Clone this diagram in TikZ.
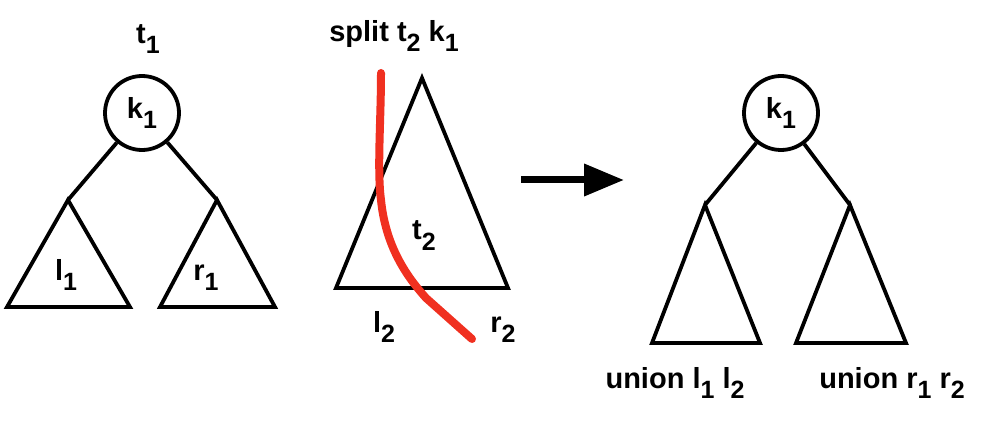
\documentclass[tikz,border=0pt]{standalone}
\usepackage{fontspec}
\setmainfont{Liberation Sans}
\usetikzlibrary{arrows.meta}
\definecolor{cutred}{RGB}{240,48,32}
\newcommand\sbs[1]{\raisebox{-10pt}{\fontsize{25}{25}\selectfont #1}}
\tikzset{
  lbl/.style={inner sep=0pt, anchor=base, font=\fontsize{29}{33}\selectfont\bfseries},
  keynode/.style={draw, circle, line width=3.8pt, minimum size=74pt, inner sep=0pt, font=\fontsize{29}{33}\selectfont\bfseries},
  edge/.style={line width=3.8pt},
  tri/.style={line width=3.8pt, line join=miter},
  cut/.style={line width=8pt, color=cutred, line cap=round},
  bigarrow/.style={line width=7pt, -{Triangle[length=40pt, width=31pt]}}
}
\begin{document}
\begin{tikzpicture}[x=1pt,y=-1pt]
\useasboundingbox (0,0) rectangle (998,422);
% left tree
\node[lbl] (t1) at (148,44) {t\sbs{1}};
\node[keynode] (k1a) at (142,113) {\raisebox{4pt}{k\sbs{1}}};
\coordinate (la) at (68,200);
\coordinate (ra) at (217,200);
\draw[edge] (k1a) -- (la);
\draw[edge] (k1a) -- (ra);
\draw[tri] (la) -- (7,307) -- (130,307) -- cycle;
\draw[tri] (ra) -- (160,307) -- (275,307) -- cycle;
\node[lbl] (l1) at (66,280) {l\sbs{1}};
\node[lbl] (r1) at (206,280) {r\sbs{1}};
% middle
\node[lbl] (split) at (394,42) {split t\sbs{2} k\sbs{1}};
\draw[tri] (422,78) -- (336,288) -- (508,288) -- cycle;
\node[lbl] (t2) at (424,240) {t\sbs{2}};
\node[lbl] (l2) at (384,332) {l\sbs{2}};
\node[lbl] (r2) at (503,332) {r\sbs{2}};
\coordinate (c0) at (381,73);
\coordinate (c1) at (472,339);
\draw[cut] (c0) .. controls (381,120) and (377,170) .. (381,200)
  .. controls (386,250) and (410,280) .. (426,298)
  -- (c1);
% arrow
\coordinate (a0) at (521,180);
\coordinate (a1) at (624,180);
\draw[bigarrow] (a0) -- (a1);
% right tree
\node[keynode] (k1b) at (781,113) {\raisebox{4pt}{k\sbs{1}}};
\coordinate (lb) at (705,205);
\coordinate (rb) at (850,205);
\draw[edge] (k1b) -- (lb);
\draw[edge] (k1b) -- (rb);
\draw[tri] (lb) -- (652,343) -- (760,343) -- cycle;
\draw[tri] (rb) -- (796,343) -- (906,343) -- cycle;
\node[lbl] (u1) at (675,388) {union l\sbs{1} l\sbs{2}};
\node[lbl] (u2) at (892,388) {union r\sbs{1} r\sbs{2}};
\end{tikzpicture}
\end{document}
